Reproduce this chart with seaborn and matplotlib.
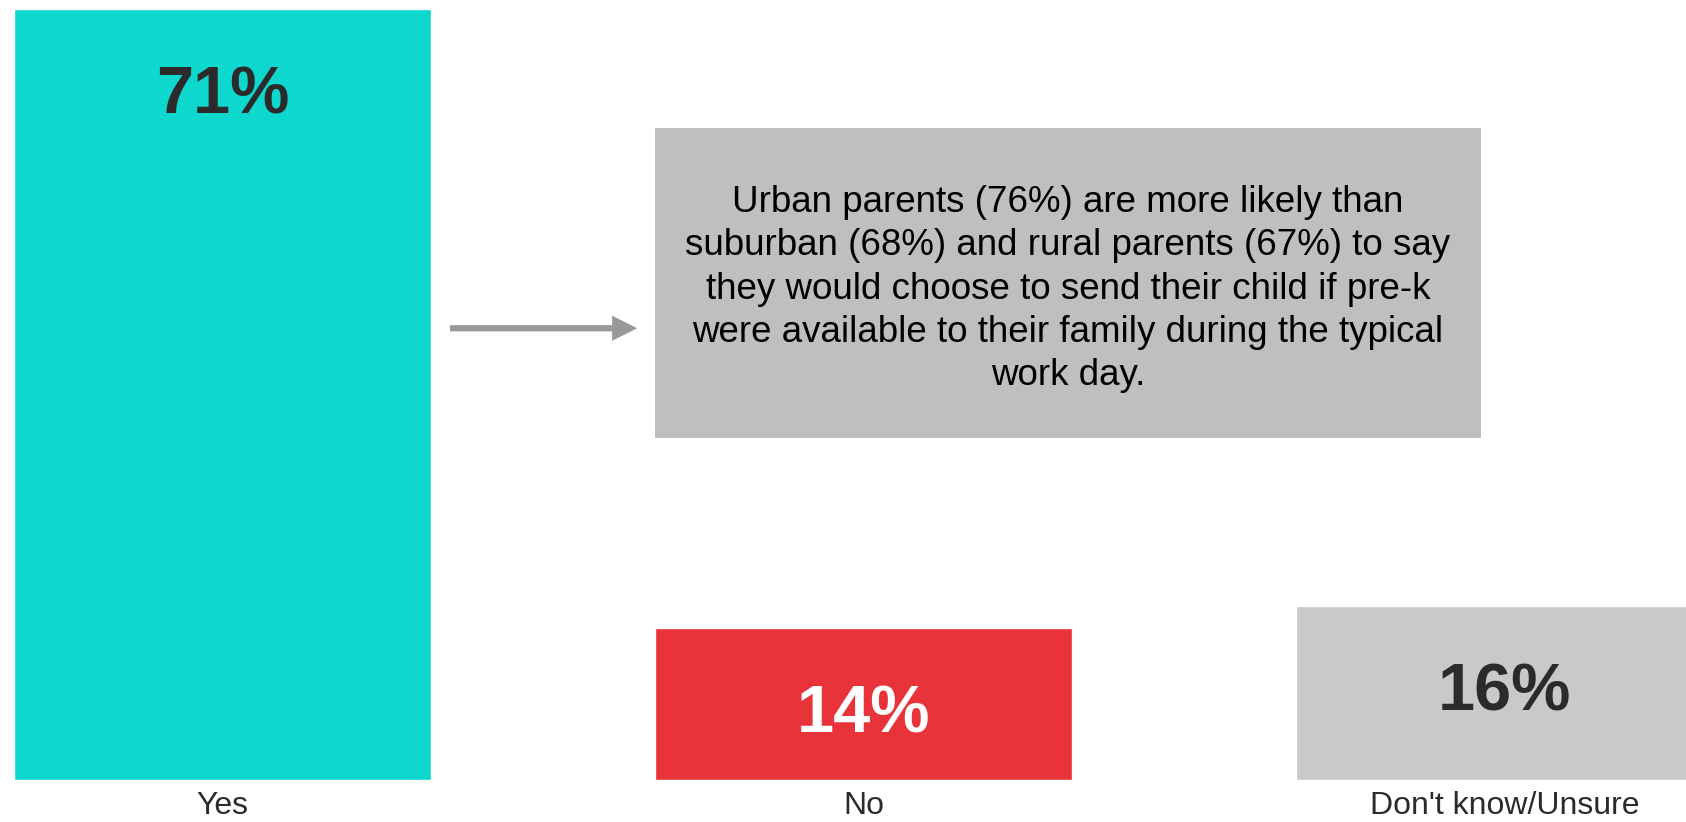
import matplotlib
matplotlib.use("Agg")
import matplotlib.pyplot as plt
import seaborn as sns
import pandas as pd
from matplotlib.patches import Rectangle

categories = ["Yes", "No", "Don't know/Unsure"]
values = [71, 14, 16]
labels = ["71%", "14%", "16%"]
bar_colors = ["#0ED8CE", "#E8333A", "#C9C9C9"]
label_colors = ["#2B2B2B", "#FFFFFF", "#2B2B2B"]
note = ("Urban parents (76%) are more likely than\n"
        "suburban (68%) and rural parents (67%) to say\n"
        "they would choose to send their child if pre-k\n"
        "were available to their family during the typical\n"
        "work day.")

sns.set_theme(style="white")
plt.rcParams['font.family'] = ['Liberation Sans', 'DejaVu Sans']

W, H = 1686, 822
fig = plt.figure(figsize=(W / 100, H / 100), dpi=100)
ax = fig.add_axes([0, 42 / H, 1, 780 / H])

df = pd.DataFrame({"cat": categories, "val": values})
sns.barplot(data=df, x="cat", y="val", hue="cat", palette=bar_colors,
            width=0.65, legend=False, ax=ax, saturation=1)

ax.set_xlim(-0.347, 2.283)
ax.set_ylim(0, 71.83)
for s in ax.spines.values():
    s.set_visible(False)
ax.set_yticks([])
ax.set_xlabel("")
ax.set_ylabel("")
ax.tick_params(axis="x", length=0, pad=8, labelsize=23, labelcolor="#2B2B2B")

for i, (v, lab, c) in enumerate(zip(values, labels, label_colors)):
    ax.text(i, v - 9.6, lab, ha="center", va="baseline", fontsize=48,
            fontweight="bold", color=c)

# annotation box
fig.add_artist(Rectangle((655 / W, 1 - 438 / H), (1481 - 655) / W, (438 - 128) / H,
                         transform=fig.transFigure, facecolor="#BFBFBF",
                         edgecolor="none"))
fig.text((655 + 1481) / 2 / W, 1 - 289 / H, note, ha="center", va="center",
         fontsize=26.5, color="#000000", linespacing=1.31)

# arrow
ax.annotate("", xy=(0.647, 41.6), xytext=(0.355, 41.6),
            arrowprops=dict(arrowstyle="-|>,head_length=0.9,head_width=0.45",
                            color="#999999", lw=4.5, shrinkA=0, shrinkB=0,
                            capstyle="butt", joinstyle="miter"))

fig.savefig("out.png", dpi=100)
